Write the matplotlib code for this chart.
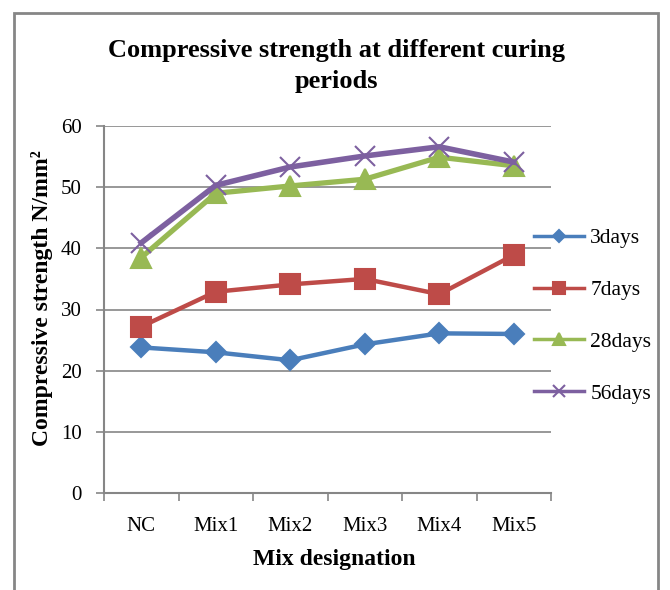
import matplotlib.pyplot as plt
from matplotlib.patches import Rectangle

plt.rcParams['font.family'] = ['Liberation Serif', 'DejaVu Serif']

# Mix designations and strengths (N/mm2) for each curing period
mixes = ['NC', 'Mix1', 'Mix2', 'Mix3', 'Mix4', 'Mix5']
days3 = [23.8, 23.0, 21.7, 24.3, 26.1, 26.0]
days7 = [27.2, 32.9, 34.1, 35.0, 32.5, 38.9]
days28 = [38.5, 49.0, 50.2, 51.3, 54.9, 53.5]
days56 = [40.9, 50.3, 53.3, 55.1, 56.6, 54.1]

series = [
    ('3days', days3, '#4A7EBB', 'D', 10.5, 3.2),
    ('7days', days7, '#BE4B48', 's', 14, 3.2),
    ('28days', days28, '#98B954', '^', 14, 3.8),
    ('56days', days56, '#7D60A0', 'x', 14, 4.0),
]

fig = plt.figure(figsize=(6.7, 5.9), dpi=100)
ax = fig.add_axes([104/670, 97/590, 447/670, 367/590])

# outer chart border
fig.patches.append(Rectangle((14/670, -0.05), 644/670, 1.05 - 13/590,
                             transform=fig.transFigure, fill=False,
                             edgecolor='#868686', lw=2))

x = range(len(mixes))
for name, vals, col, mk, ms, lw in series:
    ax.plot(x, vals, color=col, lw=lw, marker=mk, ms=ms, mec=col, mfc=col,
            mew=1.5, label=name, solid_joinstyle='round')

ax.set_xlim(-0.5, 5.5)
ax.set_ylim(0, 60)
ax.set_yticks(range(0, 61, 10))
ax.set_xticks([i - 0.5 for i in range(7)], minor=False)
ax.set_xticklabels([])
ax.set_xticks(list(x), minor=True)
ax.set_xticklabels(mixes, minor=True)
ax.tick_params(axis='x', which='minor', length=0, pad=17, labelsize=15)
ax.tick_params(axis='x', which='major', length=6, color='#868686', width=1.2)
ax.tick_params(axis='y', length=6, color='#868686', width=1.2, labelsize=15, pad=10)
ax.yaxis.grid(True, color='#868686', lw=1.2)
ax.set_axisbelow(True)
for s in ['top', 'right']:
    ax.spines[s].set_visible(False)
for s in ['left', 'bottom']:
    ax.spines[s].set_color('#868686')
    ax.spines[s].set_linewidth(1.5)

ax.set_xlabel('Mix designation', fontsize=17, fontweight='bold')
ax.xaxis.set_label_coords(0.516, -0.152)
ax.set_ylabel('Compressive strength N/mm²', fontsize=17, fontweight='bold')
ax.yaxis.set_label_coords(-0.114, 0.53)

fig.text(336/670, 1 - 66/590, 'Compressive strength at different curing\nperiods',
         ha='center', va='center', fontsize=19, fontweight='bold', linespacing=1.4)

leg = ax.legend(loc='center left', bbox_to_anchor=(515/670, 1 - 316/590),
                bbox_transform=fig.transFigure, frameon=False, fontsize=15.5,
                labelspacing=1.47, handlelength=2.3, handletextpad=0.3,
                markerscale=0.6)
for h in leg.get_lines():
    h.set_linewidth(2.5)

fig.savefig('out.png', dpi=100)
